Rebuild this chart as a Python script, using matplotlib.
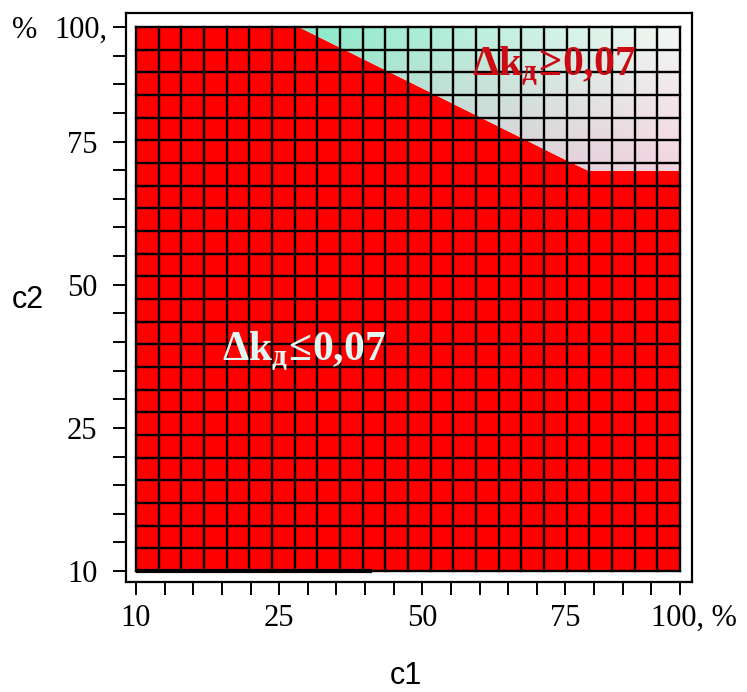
import numpy as np
import matplotlib
matplotlib.use('Agg')
import matplotlib.pyplot as plt
from matplotlib.patches import Polygon
import matplotlib.transforms as mtransforms

# Valores dos eixos (escala não uniforme: posição do tick -> valor)
tick_vals = [10, 25, 50, 75, 100]
tick_pos = [0, 5, 10, 15, 19]
x_labels = ['10', '25', '50', '75', '100, %']
y_labels = ['10', '25', '50', '75', '100,']

# Fronteira entre as regiões (c1, c2 em %)
limite_c1 = [28.4, 50, 68.6, 75, 80, 100]
limite_c2 = [100, 86.6, 75, 71.8, 69.9, 69.9]

# Traço preto na borda inferior (c1 de 10 a ~41 %)
traco_c1 = [10, 41.2]
traco_c2 = [10, 10]

n_celulas = 24

texto_alto = r'$\mathbf{\Delta k_{д}}\!\geq\!\mathbf{0{,}07}$'
texto_baixo = r'$\mathbf{\Delta k_{д}}\!\leq\!\mathbf{0{,}07}$'


def para_idx(v):
    return np.interp(v, tick_vals, tick_pos)


plt.rcParams['mathtext.fontset'] = 'custom'
plt.rcParams['mathtext.rm'] = 'Liberation Serif:bold'
plt.rcParams['mathtext.bf'] = 'Liberation Serif:bold'
plt.rcParams['mathtext.it'] = 'Liberation Serif:italic'

fig = plt.figure(figsize=(7.47, 6.92), dpi=100)
ax = fig.add_axes([126 / 747, 110 / 692, 566 / 747, 569 / 692])

xmax = tick_pos[-1]
bx = para_idx(limite_c1)
by = para_idx(limite_c2)

# Região vermelha (abaixo da fronteira)
verts_red = [(0, 0), (xmax, 0)] + list(zip(bx[::-1], by[::-1])) + [(0, xmax)]
ax.add_patch(Polygon(verts_red, closed=True, facecolor='#ff0000', edgecolor='none', zorder=1))

# Região clara com gradiente (acima da fronteira)
verts_up = list(zip(bx, by)) + [(xmax, xmax)]
poly_up = Polygon(verts_up, closed=True, facecolor='none', edgecolor='none')
ax.add_patch(poly_up)
x0g, x1g, y0g, y1g = bx[0], xmax, by[-1], xmax
tl = np.array([135, 235, 200]) / 255
tr = np.array([245, 248, 245]) / 255
bl = np.array([190, 200, 200]) / 255
br = np.array([245, 212, 225]) / 255
u = np.linspace(0, 1, 200)[None, :, None]
v = np.linspace(1, 0, 100)[:, None, None]
grad = (1 - u) * (1 - v) * bl + u * (1 - v) * br + (1 - u) * v * tl + u * v * tr
im = ax.imshow(grad, extent=[x0g, x1g, y0g, y1g], origin='upper', aspect='auto',
               interpolation='bilinear', zorder=1)
im.set_clip_path(poly_up)

# Malha de células
linhas = np.linspace(0, xmax, n_celulas + 1)
for p in linhas:
    ax.plot([p, p], [0, xmax], color='black', lw=1.7, zorder=3)
    ax.plot([0, xmax], [p, p], color='black', lw=1.7, zorder=3)

ax.plot(para_idx(traco_c1), para_idx(traco_c2), color='black', lw=3, zorder=4,
        solid_capstyle='butt')

ax.set_xlim(-0.35, 19.42)
ax.set_ylim(-0.38, 19.49)

ax.set_xticks(tick_pos)
ax.set_xticklabels(x_labels)
ax.set_yticks(tick_pos)
ax.set_yticklabels(y_labels)
ax.set_xticks(np.arange(0, 20), minor=True)
ax.set_yticks(np.arange(0, 20), minor=True)

for sp in ax.spines.values():
    sp.set_linewidth(1.6)

ax.tick_params(which='both', direction='out', length=9.5, width=1.4)
ax.tick_params(axis='x', which='major', pad=6)
ax.tick_params(axis='y', which='major', pad=11)
for lab in ax.get_xticklabels() + ax.get_yticklabels():
    lab.set_fontfamily('Liberation Serif')
    lab.set_fontsize(22)

# desloca "100, %" para a direita
lab100 = ax.get_xticklabels()[-1]
lab100.set_transform(lab100.get_transform() +
                     mtransforms.ScaledTranslation(14 / 100, 0, fig.dpi_scale_trans))
# e "100," do eixo y um pouco para a direita
laby = ax.get_yticklabels()[-1]
laby.set_transform(laby.get_transform() +
                   mtransforms.ScaledTranslation(10 / 100, 0, fig.dpi_scale_trans))

ax.text(para_idx(73), para_idx(91.3), texto_alto, color='#cc0a14', fontsize=30,
        ha='center', va='center', zorder=5)
ax.text(para_idx(29.3), para_idx(38.3), texto_baixo, color='#dff8f4', fontsize=30,
        ha='center', va='center', zorder=5)

fig.text(25 / 747, 1 - 30 / 692, '%', fontfamily='Liberation Serif', fontsize=22,
         ha='center', va='center')
fig.text(28 / 747, 1 - 300 / 692, 'c2', fontfamily='Liberation Sans', fontsize=22,
         ha='center', va='center')
fig.text(406 / 747, 1 - 676 / 692, 'c1', fontfamily='Liberation Sans', fontsize=22,
         ha='center', va='center')

fig.savefig('out.png', dpi=100)
